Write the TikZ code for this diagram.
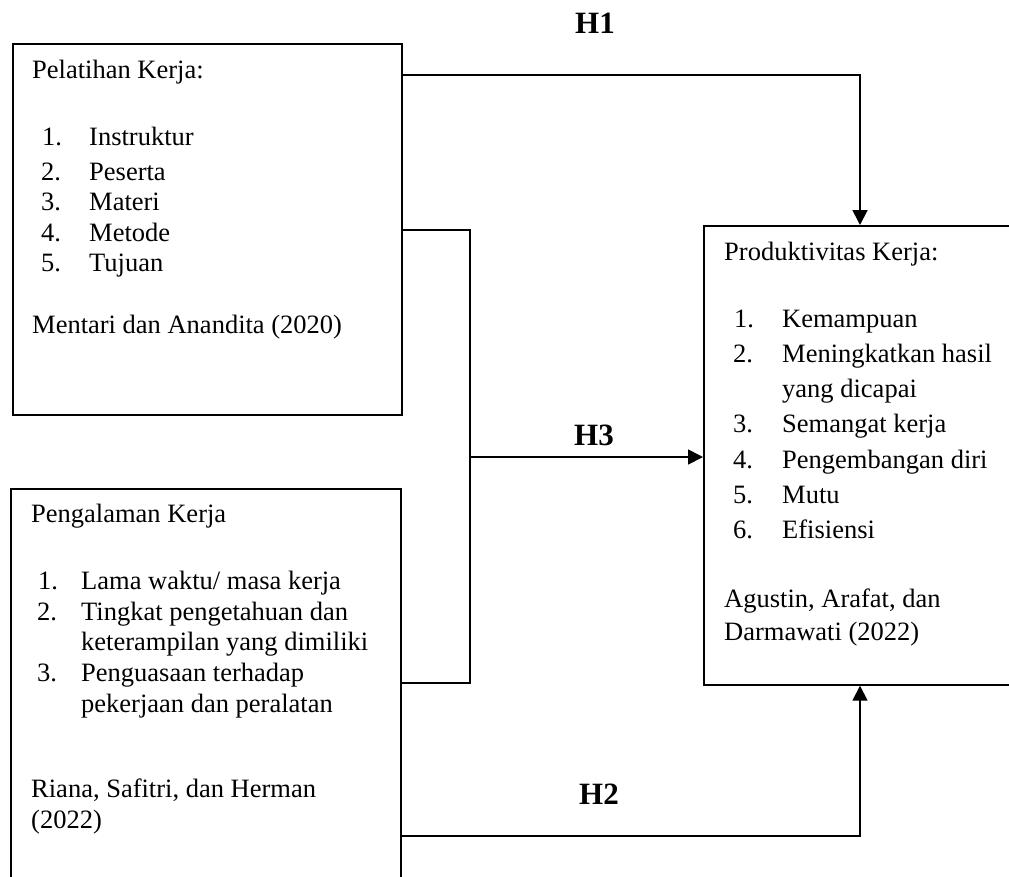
\documentclass[tikz,border=0pt]{standalone}
\usepackage{fontspec}
\setmainfont{Liberation Serif}
\usetikzlibrary{arrows.meta}
\tikzset{
  box/.style={draw, line width=1.7pt, inner sep=0pt, anchor=north west},
  txt/.style={anchor=base west, inner sep=0pt, font=\fontsize{26.5}{30}\selectfont},
  hlab/.style={anchor=base, inner sep=0pt, font=\fontsize{31}{34}\selectfont\bfseries},
  conn/.style={line width=1.7pt},
  arr/.style={line width=1.7pt, -{Triangle[length=15pt,width=15pt]}}
}
\begin{document}
\begin{tikzpicture}[x=1pt,y=-1pt]
\useasboundingbox (0,0) rectangle (1009,876);
\clip (0,0) rectangle (1009,876);
% boxes
\node[box, minimum width=389pt, minimum height=371pt] (b1) at (12,43) {};
\node[box, minimum width=390pt, minimum height=400pt] (b2) at (10,488) {};
\node[box, minimum width=320pt, minimum height=459pt] (b3) at (703,225) {};
% box 1 text
\node[txt] (t1a) at (32,78) {Pelatihan Kerja:};
\node[txt] (t1n1) at (42,145) {1.};
\node[txt] (t1i1) at (89,145) {Instruktur};
\node[txt] (t1n2) at (41,180) {2.};
\node[txt] (t1i2) at (89,180) {Peserta};
\node[txt] (t1n3) at (41,210) {3.};
\node[txt] (t1i3) at (89,210) {Materi};
\node[txt] (t1n4) at (41,241) {4.};
\node[txt] (t1i4) at (89,241) {Metode};
\node[txt] (t1n5) at (41,271) {5.};
\node[txt] (t1i5) at (89,271) {Tujuan};
\node[txt] (t1r) at (32,333) {Mentari dan Anandita (2020)};
% box 2 text
\node[txt] (t2a) at (31,522) {Pengalaman Kerja};
\node[txt] (t2n1) at (38,589) {1.};
\node[txt] (t2i1) at (81,589) {Lama waktu/ masa kerja};
\node[txt] (t2n2) at (37,620) {2.};
\node[txt] (t2i2) at (81,620) {Tingkat pengetahuan dan};
\node[txt] (t2i2b) at (81,650) {keterampilan yang dimiliki};
\node[txt] (t2n3) at (37,681) {3.};
\node[txt] (t2i3) at (81,681) {Penguasaan terhadap};
\node[txt] (t2i3b) at (81,712) {pekerjaan dan peralatan};
\node[txt] (t2r) at (31,797) {Riana, Safitri, dan Herman};
\node[txt] (t2r2) at (31,828) {(2022)};
% box 3 text
\node[txt] (t3a) at (724,260) {Produktivitas Kerja:};
\node[txt] (t3n1) at (734,327) {1.};
\node[txt] (t3i1) at (782,327) {Kemampuan};
\node[txt] (t3n2) at (733,362) {2.};
\node[txt] (t3i2) at (782,362) {Meningkatkan hasil};
\node[txt] (t3i2b) at (782,397) {yang dicapai};
\node[txt] (t3n3) at (733,432) {3.};
\node[txt] (t3i3) at (782,432) {Semangat kerja};
\node[txt] (t3n4) at (733,468) {4.};
\node[txt] (t3i4) at (782,468) {Pengembangan diri};
\node[txt] (t3n5) at (733,503) {5.};
\node[txt] (t3i5) at (782,503) {Mutu};
\node[txt] (t3n6) at (733,538) {6.};
\node[txt] (t3i6) at (782,538) {Efisiensi};
\node[txt] (t3r) at (724,607) {Agustin, Arafat, dan};
\node[txt] (t3r2) at (724,640) {Darmawati (2022)};
% labels
\node[hlab] (h1) at (595,33) {H1};
\node[hlab] (h3) at (594,445) {H3};
\node[hlab] (h2) at (599,804) {H2};
% connectors
\coordinate (c1) at (860,75);
\coordinate (j) at (470,457);
\coordinate (c3a) at (0,230);
\coordinate (c3b) at (0,683);
\coordinate (c2) at (0,836);
\draw[arr] (b1.east |- c1) -| (b3.north -| c1);
\draw[conn] (b1.east |- c3a) -| (j) |- (b2.east |- c3b);
\draw[arr] (j) -- (b3.west |- j);
\draw[arr] (b2.east |- c2) -| (b3.south -| c1);
\end{tikzpicture}
\end{document}
